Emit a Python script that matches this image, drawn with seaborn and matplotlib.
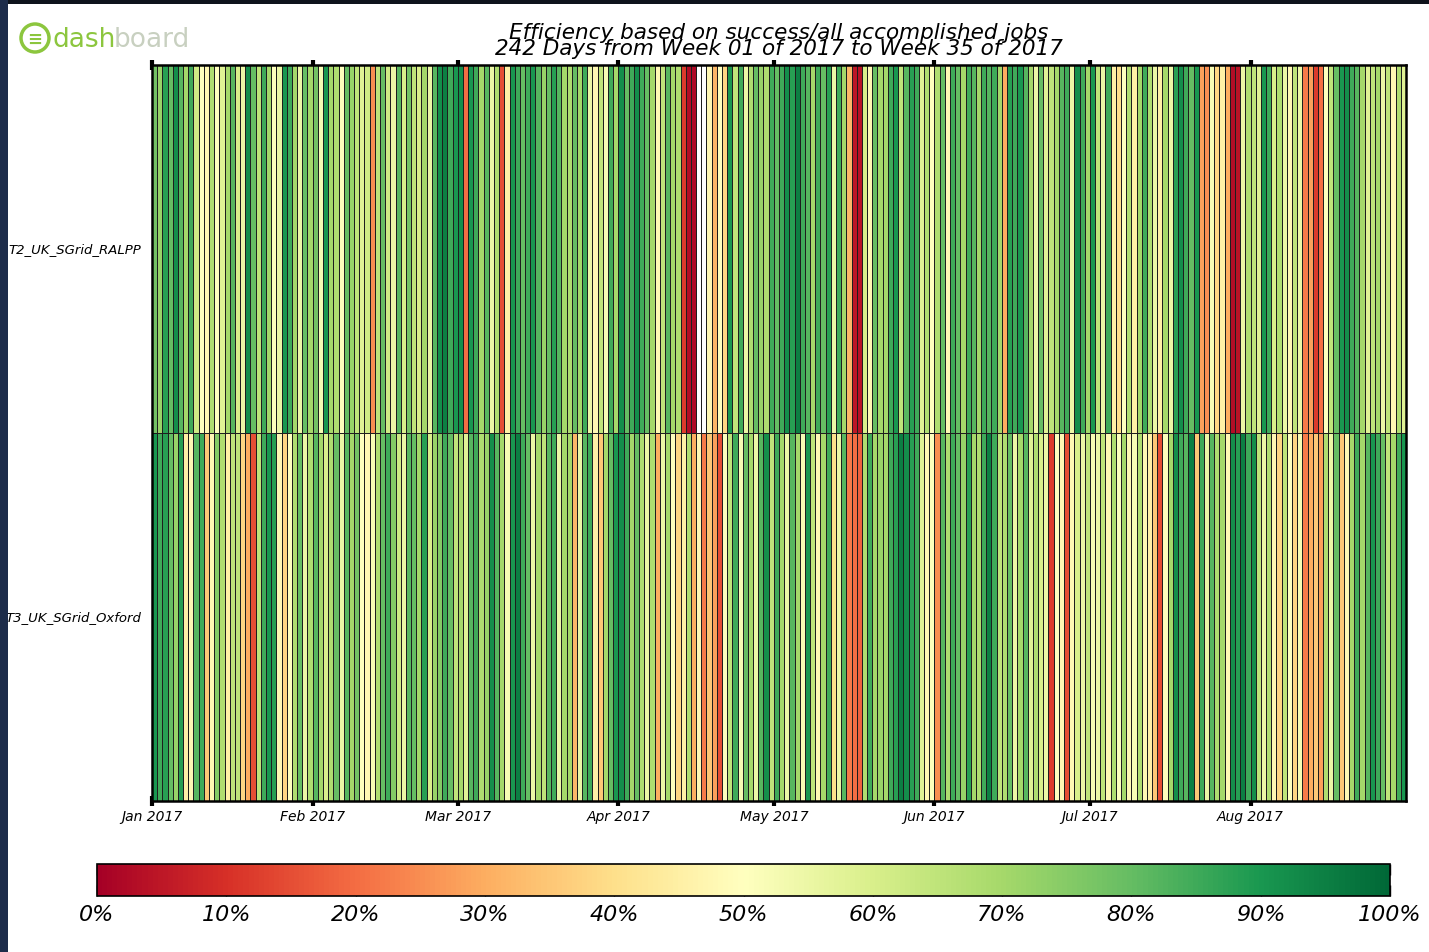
import numpy as np
import pandas as pd
import matplotlib
matplotlib.use("Agg")
import matplotlib.pyplot as plt
import seaborn as sns
from matplotlib.patches import Rectangle, Ellipse

sites = ["T2_UK_SGrid_RALPP", "T3_UK_SGrid_Oxford"]

ralpp = [78,72,88,80,92,82,70,85,62,50,48,68,50,58,70,82,60,55,92,80,
         65,85,70,50,55,90,85,70,55,80,70,78,52,90,70,68,50,80,72,65,
         58,62,25,65,80,62,55,82,60,78,65,60,70,55,82,92,95,85,90,92,
         20,90,85,70,82,55,68,15,45,90,85,80,85,90,82,72,80,88,82,70,
         68,80,70,85,55,48,65,52,85,70,92,80,85,92,85,80,70,48,65,82,70,
         68,12,3,2,None,None,48,32,50,38,90,65,85,55,68,80,72,68,85,80,
         85,92,88,95,85,82,70,85,80,88,55,85,70,32,5,4,60,48,80,70,
         70,85,90,65,82,88,85,58,68,50,68,80,48,85,80,70,85,82,70,85,
         82,85,70,30,88,85,90,82,70,55,80,58,65,70,82,85,55,92,85,70,90,
         65,55,85,45,40,50,68,45,70,85,68,55,45,70,55,88,92,85,80,90,
         28,25,52,38,45,30,3,4,55,68,65,58,90,85,60,68,55,48,65,55,
         22,28,12,20,50,65,80,90,92,85,82,70,58,65,70,55,65,48,68,58]

oxford = [90,85,88,80,72,88,45,48,82,85,35,48,75,68,45,65,65,38,30,15,
          65,85,90,88,48,38,50,68,80,55,68,82,70,60,68,80,55,82,70,78,
          50,48,52,68,80,85,75,62,55,82,80,70,88,60,72,75,85,80,65,70,
          58,82,85,68,72,92,82,70,52,90,95,85,80,55,70,65,82,85,55,70,
          70,32,55,82,85,45,35,70,80,90,92,85,70,80,68,55,68,30,55,70,50,
          38,45,68,30,48,22,35,28,15,50,65,85,52,80,70,55,82,92,65,85,
          70,55,82,70,52,90,65,48,70,85,40,55,82,22,20,18,68,85,70,72,
          70,85,88,95,92,88,85,58,48,50,25,82,68,85,80,72,88,70,68,85,
          95,85,65,68,80,55,70,82,58,68,60,55,12,50,48,15,48,60,55,65,52,
          55,65,48,68,50,70,48,52,68,48,45,35,15,50,70,92,85,82,95,35,
          85,55,82,68,70,48,92,88,95,85,92,65,55,68,48,38,65,50,38,52,
          22,30,35,28,68,55,80,35,48,70,85,70,82,90,85,80,65,70,85,90]

days = pd.date_range("2017-01-01", periods=242, freq="D")
month_labels = ["Jan 2017", "Feb 2017", "Mar 2017", "Apr 2017",
                "May 2017", "Jun 2017", "Jul 2017", "Aug 2017"]
cbar_ticks = [0, 10, 20, 30, 40, 50, 60, 70, 80, 90, 100]

title1 = "Efficiency based on success/all accomplished jobs"
title2 = "242 Days from Week 01 of 2017 to Week 35 of 2017"

df = pd.DataFrame([ralpp, oxford], index=sites, columns=days, dtype=float)

sns.set_style("white")
plt.rcParams['font.family'] = ['DejaVu Sans']
plt.rcParams['text.color'] = 'black'
plt.rcParams['xtick.color'] = 'black'
plt.rcParams['ytick.color'] = 'black'

W, H = 1429, 953
fig = plt.figure(figsize=(W / 100, H / 100), dpi=100, facecolor="white")

def fx(px):
    return px / W

def fy(py):
    return 1 - py / H

ax = fig.add_axes([fx(152), fy(802), fx(1406) - fx(152), fy(66) - fy(802)])
sns.heatmap(df, ax=ax, cmap="RdYlGn", vmin=0, vmax=100, cbar=False,
            linewidths=0.6, linecolor="#1e1e1e")

# month ticks at first day of each month
month_pos = [i for i, d in enumerate(days) if d.day == 1]
ax.set_xticks(month_pos)
ax.set_xticklabels(month_labels, rotation=0, fontsize=10, style="italic",
                   color="black")
ax.tick_params(axis="x", direction="inout", length=7, width=3, top=True,
               bottom=True, pad=2, color="black")
ax.set_yticks([0.5, 1.5])
ax.set_yticklabels(sites, rotation=0, fontsize=9.5, style="italic",
                   color="black")
ax.tick_params(axis="y", length=0, pad=8)
ax.set_xlabel("")
ax.set_ylabel("")
for s in ax.spines.values():
    s.set_visible(True)
    s.set_linewidth(1.8)
    s.set_color("black")

# colorbar
cax = fig.add_axes([fx(97), fy(897), fx(1390) - fx(97), fy(865) - fy(897)])
cb = fig.colorbar(ax.collections[0], cax=cax, orientation="horizontal",
                  ticks=cbar_ticks)
cb.ax.set_xticklabels([f"{v}%" for v in cbar_ticks], fontsize=16,
                      style="italic", color="black")
cb.ax.tick_params(axis="x", direction="in", length=8, width=1, top=True,
                  bottom=True, pad=6, color="black")
cb.outline.set_linewidth(1.2)
cb.outline.set_edgecolor("black")

# titles
fig.text(fx(779), fy(33), title1, ha="center", va="center", fontsize=15.5,
         style="italic", color="black")
fig.text(fx(779), fy(49), title2, ha="center", va="center", fontsize=15.5,
         style="italic", color="black")

# logo
fig.add_artist(Ellipse((fx(35), fy(39)), fx(28), 28 / H, transform=fig.transFigure,
                       facecolor="none", edgecolor="#8cc63e", linewidth=2.5))
fig.text(fx(35), fy(40), "\u2261", ha="center", va="center", fontsize=13,
         color="#8cc63e", fontweight="bold")
fig.text(fx(52), fy(40), "dash", ha="left", va="center", fontsize=19,
         color="#8cc63e")
fig.text(fx(114), fy(40), "board", ha="left", va="center", fontsize=19,
         color="#c8d0c0")

# screenshot dark borders
fig.add_artist(Rectangle((0, fy(5)), 1, 5 / H, transform=fig.transFigure,
                         facecolor="#0e131c", edgecolor="none"))
fig.add_artist(Rectangle((0, 0), fx(8), 1, transform=fig.transFigure,
                         facecolor="#1d2c4a", edgecolor="none"))

fig.savefig("out.png", dpi=100, facecolor="white")
